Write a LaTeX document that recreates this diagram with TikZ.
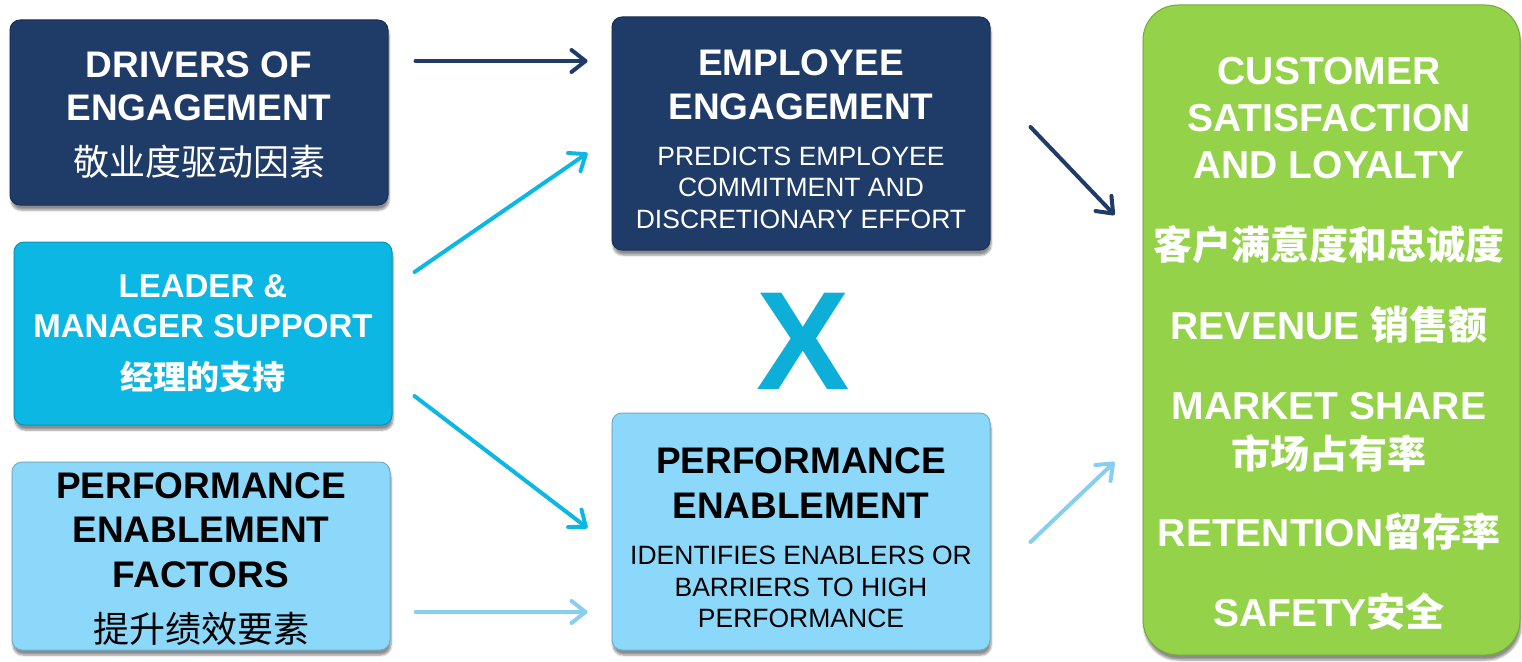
\documentclass[tikz,border=0pt]{standalone}
\usepackage{fontspec}
\setmainfont{Liberation Sans}
\newfontfamily\cjk{Noto Sans CJK SC}
\usetikzlibrary{arrows.meta,shadows.blur}

\definecolor{navy}{HTML}{1F3B68}
\definecolor{skyblue}{HTML}{0DB7E4}
\definecolor{paleblue}{HTML}{8CD8FA}
\definecolor{leafgreen}{HTML}{94D249}
\definecolor{xcyan}{HTML}{0DAFD8}
\definecolor{palearrow}{HTML}{87CEF0}

% fonts, all with the same line distance
\newcommand\headfont{\fontsize{37pt}{44pt}\selectfont\bfseries}
\newcommand\midfont{\fontsize{33pt}{44pt}\selectfont\bfseries}
\newcommand\subfont{\fontsize{26.5pt}{44pt}\selectfont\mdseries}
\newcommand\zhfont{\cjk\fontsize{36pt}{44pt}\selectfont\mdseries}
% extra room above the first line pushes the block down
\newcommand\topgap[1]{\rule{0pt}{#1}}

\tikzset{
  box/.style={rectangle, rounded corners=10pt, fill=#1, draw=#1!80!black,
    line width=1pt, minimum width=378pt, inner sep=0pt, align=center,
    font=\fontsize{37pt}{44pt}\selectfont,
    blur shadow={shadow xshift=1pt, shadow yshift=-5pt, shadow opacity=45,
      shadow blur steps=6}},
  arr/.style={draw=#1, line width=4pt, line cap=round,
    -{Straight Barb[length=14pt,width=22pt,line cap=round,line join=round]}},
  outtext/.style={text=white, font=\fontsize{39pt}{44pt}\selectfont\bfseries,
    inner sep=0pt, anchor=base},
}

\begin{document}
\begin{tikzpicture}[x=1pt,y=-1pt]
\useasboundingbox (0,0) rectangle (1522,661);

% left column
\node[box=navy, text=white, minimum height=185pt] (drivers) at (199,112.5)
  {\topgap{31.5pt}\headfont DRIVERS OF\\[-1pt]\headfont ENGAGEMENT\\[11pt]\zhfont 敬业度驱动因素};
\node[box=skyblue, text=white, minimum height=183pt] (leader) at (203,333.5)
  {\midfont LEADER \&\\[-4pt]\midfont MANAGER SUPPORT\\[7.5pt]\cjk\midfont 经理的支持};
\node[box=paleblue, text=black, minimum height=188pt] (pef) at (201,556)
  {\topgap{31.5pt}\headfont PERFORMANCE\\\headfont ENABLEMENT\\[1pt]\headfont FACTORS\\[11pt]\zhfont 提升绩效要素};

% middle column
\node[box=navy, text=white, minimum height=233pt] (empl) at (801,133.5)
  {\topgap{37.5pt}\headfont EMPLOYEE\\\headfont ENGAGEMENT\\[2.5pt]\subfont PREDICTS EMPLOYEE\\[-13pt]%
   \subfont COMMITMENT AND\\[-12pt]\subfont DISCRETIONARY EFFORT};
\node[box=paleblue, text=black, minimum height=237pt] (penab) at (801,531.5)
  {\topgap{38.5pt}\headfont PERFORMANCE\\[1pt]\headfont ENABLEMENT\\[1.5pt]\subfont IDENTIFIES ENABLERS OR\\[-12pt]%
   \subfont BARRIERS TO HIGH\\[-13pt]\subfont PERFORMANCE};
\node[text=xcyan, inner sep=0pt, font=\fontsize{140pt}{140pt}\selectfont\bfseries]
  (times) at (803,341) {X};

% outcomes
\node[box=leafgreen, rounded corners=35pt, minimum width=377pt, minimum height=650pt]
  (outcome) at (1331.5,330) {};
\foreach \y/\txt [count=\i] in {84/CUSTOMER, 131/SATISFACTION, 178/AND LOYALTY,
    259/{\cjk 客户满意度和忠诚度}, 339/{REVENUE \cjk 销售额}, 419/MARKET SHARE,
    468/{\cjk 市场占有率}, 546/{RETENTION\cjk 留存率}, 626/{SAFETY\cjk 安全}}
  \node[outtext] (out\i) at (1329,\y) {\txt};

% arrows
\draw[arr=navy] ([shift={(27,-51.5)}]drivers.east) -- ([shift={(-24,-72.5)}]empl.west);
\draw[arr=skyblue] ([shift={(22,-61.5)}]leader.east) -- ([shift={(-24,19.5)}]empl.west);
\draw[arr=skyblue] ([shift={(22,62.5)}]leader.east) -- ([shift={(-24,-3.5)}]penab.west);
\draw[arr=palearrow] ([shift={(25,56)}]pef.east) -- ([shift={(-24,80.5)}]penab.west);
\draw[arr=navy] ([shift={(40,-6.5)}]empl.east) -- ([shift={(-28,-115)}]outcome.west);
\draw[arr=palearrow] ([shift={(40,10.5)}]penab.east) -- ([shift={(-28,132)}]outcome.west);
\end{tikzpicture}
\end{document}
